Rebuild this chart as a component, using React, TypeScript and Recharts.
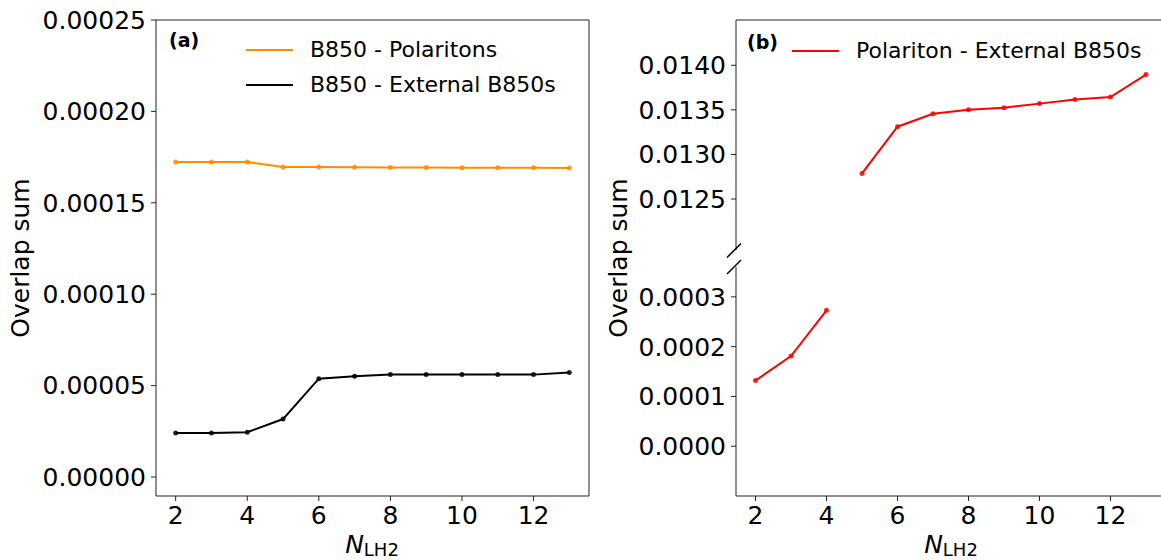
import React from 'react';
import { LineChart, Line, XAxis, YAxis, Legend, Label } from 'recharts';

// ---------- data ----------
const nLH2 = [2, 3, 4, 5, 6, 7, 8, 9, 10, 11, 12, 13];
const b850Polaritons = [0.0001723, 0.0001723, 0.0001723, 0.0001696, 0.0001696, 0.0001695, 0.0001693, 0.0001693, 0.0001692, 0.0001692, 0.0001692, 0.0001691];
const b850External = [0.000024, 0.000024, 0.0000245, 0.0000317, 0.0000538, 0.0000551, 0.000056, 0.000056, 0.000056, 0.000056, 0.000056, 0.0000571];

const nLow = [2, 3, 4];
const polaritonExternalLow = [0.000132, 0.000181, 0.000273];
const nHigh = [5, 6, 7, 8, 9, 10, 11, 12, 13];
const polaritonExternalHigh = [0.012787, 0.013311, 0.013457, 0.013502, 0.013524, 0.01357, 0.013615, 0.013644, 0.013896];

const xTicks = [2, 4, 6, 8, 10, 12];
const yTicksA = [0, 0.00005, 0.0001, 0.00015, 0.0002, 0.00025];
const yTicksBHigh = [0.0125, 0.013, 0.0135, 0.014];
const yTicksBLow = [0, 0.0001, 0.0002, 0.0003];

const dataA = nLH2.map((n, i) => ({ n, pol: b850Polaritons[i], ext: b850External[i] }));
const dataBLow = nLow.map((n, i) => ({ n, v: polaritonExternalLow[i] }));
const dataBHigh = nHigh.map((n, i) => ({ n, v: polaritonExternalHigh[i] }));

// ---------- style ----------
const W = 1170;
const H = 560;
const FONT = "'DejaVu Sans', Verdana, sans-serif";
const AX = '#222';
const tickStyle = { fontSize: 25, fill: '#000', fontFamily: FONT };
const xDomain: [number, number] = [1.45, 13.55];
const ORANGE = '#ff8c00';
const RED = '#ff0000';

const XLabelText = ({ cx }: { cx: number }) => (
  <text x={cx} y={553} textAnchor="middle" fontFamily={FONT} fill="#000">
    <tspan fontSize={25} fontStyle="italic">N</tspan>
    <tspan fontSize={18} dy={3}>LH2</tspan>
  </text>
);

const YLabelText = ({ cx, cy }: { cx: number; cy: number }) => (
  <text
    x={cx}
    y={cy}
    transform={`rotate(-90, ${cx}, ${cy})`}
    textAnchor="middle"
    dominantBaseline="central"
    fontFamily={FONT}
    fontSize={25}
    fill="#000"
  >
    Overlap sum
  </text>
);

type LegItem = { label: string; color: string };
const LegendBox = ({ items }: { items: LegItem[] }) => (
  <div style={{ fontFamily: FONT, fontSize: 22, color: '#000' }}>
    {items.map((it, i) => (
      <div key={i} style={{ display: 'flex', alignItems: 'center', height: 35, whiteSpace: 'nowrap' }}>
        <svg width={47} height={4} style={{ marginRight: 17, display: 'block' }}>
          <line x1={0} y1={2} x2={47} y2={2} stroke={it.color} strokeWidth={2} />
        </svg>
        <span style={{ lineHeight: '26px' }}>{it.label}</span>
      </div>
    ))}
  </div>
);

const dotStyle = (c: string) => ({ r: 2.5, fill: c, stroke: c, strokeWidth: 0, fillOpacity: 0.85 });

const abs: React.CSSProperties = { position: 'absolute', left: 0, top: 0 };

export default function App() {
  return (
    <div style={{ position: 'absolute', left: 0, top: 0, width: 1161, height: 560, overflow: 'hidden', background: '#fff', fontFamily: FONT }}>
      {/* Panel (a) */}
      <div style={abs}>
        <LineChart width={W} height={H} data={dataA} margin={{ top: 19, right: W - 590, bottom: 0, left: 0 }}>
          <XAxis
            dataKey="n"
            type="number"
            domain={xDomain}
            ticks={xTicks}
            allowDataOverflow
            height={64}
            tick={tickStyle}
            tickSize={5}
            tickMargin={5}
            stroke={AX}
            tickLine={{ stroke: AX }}
          >
            <Label content={() => <XLabelText cx={372} />} />
          </XAxis>
          <XAxis xAxisId="top" orientation="top" type="number" domain={[0, 1]} height={1} tick={false} tickLine={false} stroke={AX} />
          <YAxis
            type="number"
            domain={[-0.0000104, 0.00025]}
            ticks={yTicksA}
            allowDataOverflow
            width={156}
            tick={tickStyle}
            tickSize={5}
            tickMargin={5}
            tickFormatter={(v: number) => v.toFixed(5)}
            stroke={AX}
            tickLine={{ stroke: AX }}
          >
            <Label content={() => <YLabelText cx={20} cy={258} />} />
          </YAxis>
          <YAxis yAxisId="right" orientation="right" type="number" domain={[0, 1]} width={1} tick={false} tickLine={false} stroke={AX} />
          <Legend
            layout="vertical"
            align="center"
            verticalAlign="middle"
            wrapperStyle={{ position: 'absolute', left: 246, top: 32.5, width: 340 }}
            content={() => (
              <LegendBox
                items={[
                  { label: 'B850 - Polaritons', color: ORANGE },
                  { label: 'B850 - External B850s', color: '#000' },
                ]}
              />
            )}
          />
          <Line dataKey="pol" stroke={ORANGE} strokeWidth={2} dot={dotStyle(ORANGE)} activeDot={false} isAnimationActive={false} />
          <Line dataKey="ext" stroke="#000" strokeWidth={2} dot={dotStyle('#000')} activeDot={false} isAnimationActive={false} />
        </LineChart>
      </div>

      {/* Panel (b) upper part */}
      <div style={abs}>
        <LineChart width={W} height={H} data={dataBHigh} margin={{ top: 19, right: W - 1165.5, bottom: H - 250, left: 0 }}>
          <XAxis
            dataKey="n"
            type="number"
            orientation="top"
            domain={xDomain}
            allowDataOverflow
            height={1}
            tick={false}
            tickLine={false}
            stroke={AX}
          />
          <YAxis
            type="number"
            domain={[0.011928, 0.014508]}
            ticks={yTicksBHigh}
            allowDataOverflow
            width={736}
            tick={tickStyle}
            tickSize={5}
            tickMargin={5}
            tickFormatter={(v: number) => v.toFixed(4)}
            stroke={AX}
            tickLine={{ stroke: AX }}
          />
          <Legend
            layout="vertical"
            align="center"
            verticalAlign="middle"
            wrapperStyle={{ position: 'absolute', left: 792, top: 33.5, width: 370 }}
            content={() => <LegendBox items={[{ label: 'Polariton - External B850s', color: RED }]} />}
          />
          <Line dataKey="v" stroke={RED} strokeWidth={2} dot={dotStyle(RED)} activeDot={false} isAnimationActive={false} />
        </LineChart>
      </div>

      {/* Panel (b) lower part */}
      <div style={abs}>
        <LineChart width={W} height={H} data={dataBLow} margin={{ top: 267, right: W - 1165.5, bottom: 0, left: 0 }}>
          <XAxis
            dataKey="n"
            type="number"
            domain={xDomain}
            ticks={xTicks}
            allowDataOverflow
            height={64}
            tick={tickStyle}
            tickSize={5}
            tickMargin={5}
            stroke={AX}
            tickLine={{ stroke: AX }}
          >
            <Label content={() => <XLabelText cx={951} />} />
          </XAxis>
          <YAxis
            type="number"
            domain={[-0.0001, 0.00036]}
            ticks={yTicksBLow}
            allowDataOverflow
            width={736}
            tick={tickStyle}
            tickSize={5}
            tickMargin={5}
            tickFormatter={(v: number) => v.toFixed(4)}
            stroke={AX}
            tickLine={{ stroke: AX }}
          >
            <Label content={() => <YLabelText cx={618} cy={258} />} />
          </YAxis>
          <Line dataKey="v" stroke={RED} strokeWidth={2} dot={dotStyle(RED)} activeDot={false} isAnimationActive={false} />
        </LineChart>
      </div>

      {/* panel tags and axis-break marks */}
      <svg width={1161} height={560} style={{ ...abs, pointerEvents: 'none' }}>
        <text x={169} y={47} fontFamily={FONT} fontSize={19} fontWeight="bold" fill="#000">(a)</text>
        <text x={747} y={49} fontFamily={FONT} fontSize={19} fontWeight="bold" fill="#000">(b)</text>
        <line x1={727} y1={257.5} x2={741} y2={243.5} stroke="#000" strokeWidth={1.5} />
        <line x1={727} y1={274} x2={741} y2={260} stroke="#000" strokeWidth={1.5} />
      </svg>
    </div>
  );
}
